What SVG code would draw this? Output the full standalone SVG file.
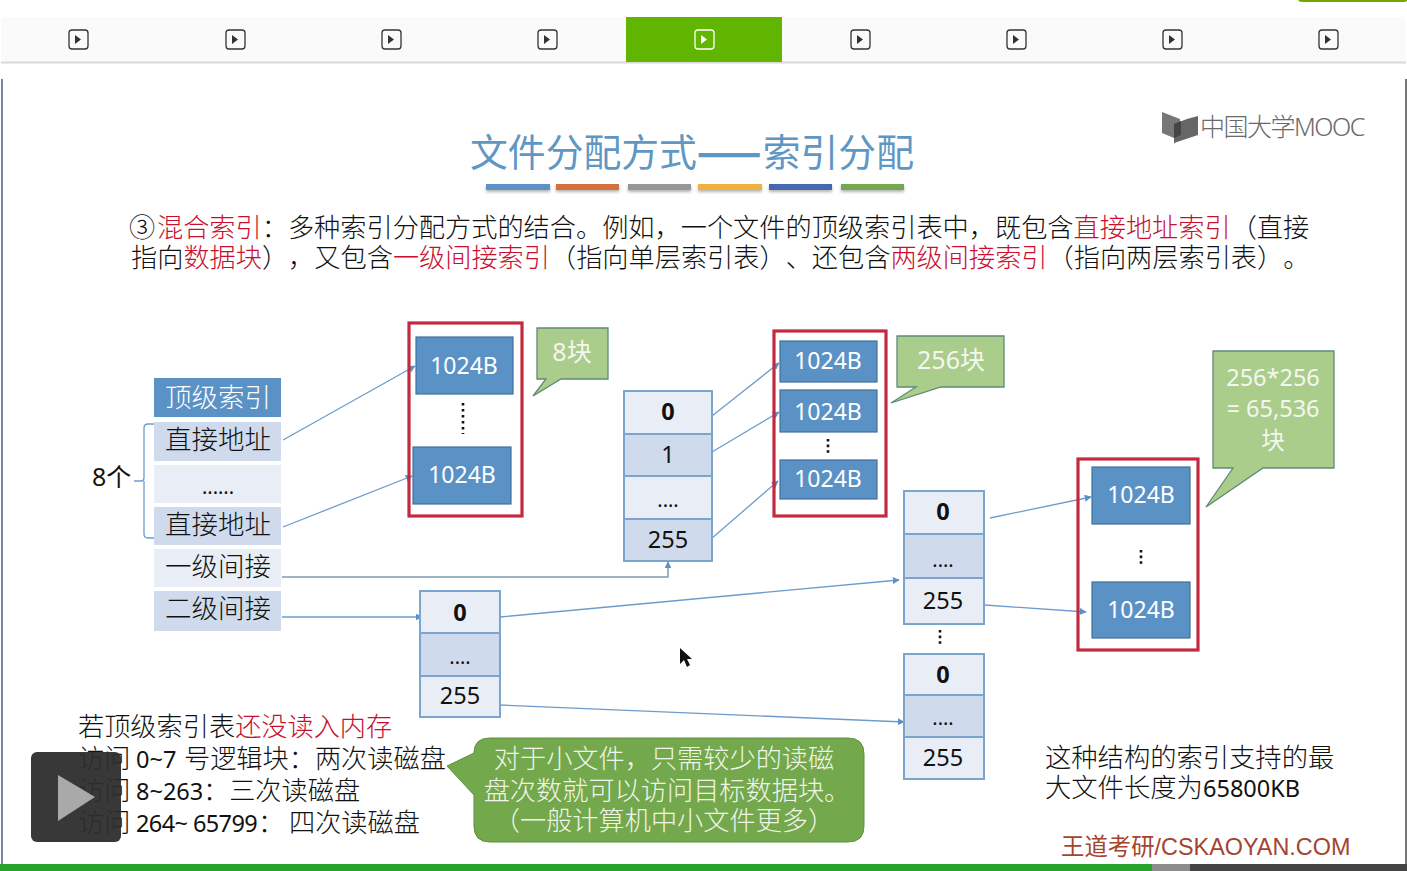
<svg xmlns="http://www.w3.org/2000/svg" width="1407" height="871" viewBox="0 0 1407 871">
<defs>
<marker id="ah" viewBox="0 0 10 10" refX="9" refY="5" markerWidth="7" markerHeight="7" markerUnits="userSpaceOnUse" orient="auto"><path d="M0 0L10 5L0 10z" fill="#5b92c6"/></marker>
<filter id="sh" x="-10%" y="-50%" width="120%" height="250%"><feDropShadow dx="0" dy="2" stdDeviation="1.5" flood-color="#000" flood-opacity=".3"/></filter>
</defs>
<style>
text{font-family:"Noto Sans","Noto Sans CJK SC",sans-serif;fill:#111;text-spacing-trim:space-all}
.cjk{font-family:"Noto Sans CJK SC",sans-serif;font-weight:300}
.b{font-size:26.2px;font-family:"Noto Sans CJK SC",sans-serif;font-weight:300}
.r{fill:#c8102e}
.m{text-anchor:middle}
.w{fill:#fff}
.t{font-size:26.5px;text-anchor:middle}
.n{font-size:23.5px;text-anchor:middle}
.h{font-size:23px;text-anchor:middle;fill:#fff}
.d{stroke:#111;stroke-width:2.6;stroke-dasharray:2.6 3.4;fill:none}
.dk{fill:#5b92c6;stroke:#41719c;stroke-width:1.2}
.l1{fill:#e9edf5;stroke:#7ba5cf;stroke-width:2}
.l2{fill:#cfdbec;stroke:#7ba5cf;stroke-width:2}
.rb{fill:none;stroke:#c42a3f;stroke-width:3.2}
.cn{fill:none;stroke:#6d9ccb;stroke-width:1.3;marker-end:url(#ah)}
.co{fill:none;stroke:#7f9ab4;stroke-width:1.5;marker-end:url(#ah)}
.bl{fill:#aacd8b;stroke:#5f8a78;stroke-width:1.3}
.ic{fill:#fafafa;stroke:#333;stroke-width:1.3}
.nt{fill:#f4f7ef}
.rd{font-size:26.2px;font-family:"Noto Sans CJK SC",sans-serif;font-weight:300}
.ln{font-family:"Noto Sans",sans-serif;font-size:23.5px;font-weight:400}
</style>
<rect width="1407" height="871" fill="#fff"/>
<g id="toolbar">
<rect x="1" y="17" width="1405" height="45" rx="5" fill="#fafafa"/>
<path d="M1 62.5H1406" stroke="#d8d8d8" stroke-width="2"/>
<rect x="626" y="17" width="156" height="45" fill="#62b500"/>
<path d="M1298 0H1407V1q-1 1-4 1H1302q-3 0-4-2z" fill="#74a600"/>
<g class="ic">
<rect x="69" y="30" width="19" height="19" rx="3"/><rect x="226" y="30" width="19" height="19" rx="3"/><rect x="382" y="30" width="19" height="19" rx="3"/><rect x="538" y="30" width="19" height="19" rx="3"/>
<rect x="851" y="30" width="19" height="19" rx="3"/><rect x="1007" y="30" width="19" height="19" rx="3"/><rect x="1163" y="30" width="19" height="19" rx="3"/><rect x="1319" y="30" width="19" height="19" rx="3"/>
</g>
<rect x="695" y="30" width="19" height="19" rx="3" fill="none" stroke="#fff" stroke-width="1.3"/>
<g fill="#333"><path d="M75 35l6 4.500-6 4.500z"/><path d="M232 35l6 4.500-6 4.500z"/><path d="M388 35l6 4.500-6 4.500z"/><path d="M544 35l6 4.500-6 4.500z"/><path d="M857 35l6 4.500-6 4.500z"/><path d="M1013 35l6 4.500-6 4.500z"/><path d="M1169 35l6 4.500-6 4.500z"/><path d="M1325 35l6 4.500-6 4.500z"/></g>
<path d="M701 35l6 4.500-6 4.500z" fill="#fff"/>
</g>
<g id="frame">
<rect x="1" y="79" width="2" height="785" fill="#7a83a0"/>
<rect x="1405" y="79" width="2" height="785" fill="#777"/>
<rect x="0" y="864" width="1152" height="7" fill="#26a32a"/>
<rect x="1152" y="864" width="38" height="7" fill="#8c8c8c"/>
<rect x="1190" y="864" width="217" height="7" fill="#444"/>
</g>
<g id="title">
<text x="692" y="166" class="m cjk" font-size="37.800" style="fill:#5f97c4;font-weight:400">文件分配方式<tspan style="font-weight:900" letter-spacing="1">——</tspan>索引分配</text>
<g filter="url(#sh)">
<rect x="486" y="184" width="64" height="6" fill="#5b92c6"/><rect x="556" y="184" width="63" height="6" fill="#d56f3e"/><rect x="628" y="184" width="63" height="6" fill="#979797"/><rect x="698" y="184" width="64" height="6" fill="#f0b03c"/><rect x="769" y="184" width="63" height="6" fill="#4468b0"/><rect x="841" y="184" width="63" height="6" fill="#74a751"/>
</g>
</g>
<g id="logo">
<path d="M1162 112l18 7v17l-6 8v-6l-12-5z" fill="#777"/><path d="M1174 124l13-5 11-3v19l-24 8z" fill="#666"/><path d="M1174 124l7-3v14l-7 3z" fill="#444"/>
<text x="1200" y="136" font-size="25" letter-spacing="-1.500" style="fill:#6a6a6a;font-weight:300">中国大学MOOC</text>
</g>
<g id="intro">
<text x="129" y="237" class="b">③<tspan class="r" x="157">混合索引</tspan>：多种索引分配方式的结合。例如，一个文件的顶级索引表中，既包含<tspan class="r">直接地址索引</tspan>（直接</text>
<text x="131" y="267" class="b">指向<tspan class="r">数据块</tspan>），又包含<tspan class="r">一级间接索引</tspan>（指向单层索引表）、还包含<tspan class="r">两级间接索引</tspan>（指向两层索引表）。</text>
</g>
<g id="connectors">
<path class="cn" d="M283 440L415 366"/>
<path class="cn" d="M283 527L412 476"/>
<path class="co" d="M282 577H668V562"/>
<path class="cn" d="M282 617H422"/>
<path class="cn" d="M500 617L899 580"/>
<path class="cn" d="M500 705L904 722"/>
<path class="cn" d="M712 416L779 363"/>
<path class="cn" d="M712 452L779 412"/>
<path class="cn" d="M711 539L778 481"/>
<path class="cn" d="M990 518L1091 497"/>
<path class="cn" d="M985 605L1086 612"/>
</g>
<g id="top-index">
<rect x="154" y="378" width="127" height="39" fill="#5b92c6"/><text x="218" y="407" class="t cjk" style="fill:#fff">顶级索引</text>
<rect x="154" y="422" width="127" height="39" fill="#cfdbec"/><text x="218" y="449" class="t cjk">直接地址</text>
<rect x="154" y="465" width="127" height="38" fill="#e9edf5"/><text x="218" y="494" class="n" style="font-size:20px">......</text>
<rect x="154" y="507" width="127" height="38" fill="#cfdbec"/><text x="218" y="534" class="t cjk">直接地址</text>
<rect x="154" y="549" width="127" height="38" fill="#e9edf5"/><text x="218" y="576" class="t cjk">一级间接</text>
<rect x="154" y="591" width="127" height="40" fill="#cfdbec"/><text x="218" y="618" class="t cjk">二级间接</text>
</g>
<g id="brace">
<path d="M154 424h-6q-4 0-4 4v50q0 3-3 3h-7m10 0q0 3 0 3v50q0 4 4 4h6" fill="none" stroke="#6d9ccb" stroke-width="1.300"/>
<text x="92" y="486" style="font-size:25px">8个</text>
</g>
<g id="blocks-a">
<rect class="rb" x="409" y="323" width="113" height="193"/>
<rect class="dk" x="416" y="337" width="97" height="57"/><text x="464" y="374" class="h">1024B</text>
<path class="d" d="M463 403V434"/>
<rect class="dk" x="413" y="447" width="98" height="57"/><text x="462" y="483" class="h">1024B</text>
</g>
<g id="note-8">
<path class="bl" d="M537 328H608V379H561L533 396L546 379H537z"/><text x="572" y="361" class="m nt" font-size="25">8块</text>
</g>
<g id="index-1">
<rect class="l1" x="624" y="391" width="88" height="43"/><text x="668" y="420" class="n" style="font-weight:700">0</text>
<rect class="l2" x="624" y="434" width="88" height="42"/><text x="668" y="463" class="n">1</text>
<rect class="l1" x="624" y="476" width="88" height="43"/><text x="668" y="507" class="n" style="font-size:20px">....</text>
<rect class="l2" x="624" y="519" width="88" height="42"/><text x="668" y="548" class="n">255</text>
</g>
<g id="blocks-b">
<rect class="rb" x="774" y="331" width="112" height="185"/>
<rect class="dk" x="780" y="341" width="97" height="41"/><text x="828" y="369" class="h">1024B</text>
<rect class="dk" x="780" y="390" width="97" height="42"/><text x="828" y="420" class="h">1024B</text>
<path class="d" d="M828 439V455" style="stroke-dasharray:2.600 3"/>
<rect class="dk" x="780" y="460" width="97" height="39"/><text x="828" y="487" class="h">1024B</text>
</g>
<g id="note-256">
<path class="bl" d="M897 336H1004V387H941L891 403L916 387H897z"/><text x="951" y="369" class="m nt" font-size="25">256块</text>
</g>
<g id="index-2">
<rect class="l1" x="420" y="591" width="80" height="42"/><text x="460" y="621" class="n" style="font-weight:700">0</text>
<rect class="l2" x="420" y="633" width="80" height="43"/><text x="460" y="664" class="n" style="font-size:20px">....</text>
<rect class="l1" x="420" y="676" width="80" height="41"/><text x="460" y="704" class="n">255</text>
</g>
<g id="index-3">
<rect class="l1" x="904" y="491" width="80" height="43"/><text x="943" y="520" class="n" style="font-weight:700">0</text>
<rect class="l2" x="904" y="534" width="80" height="44"/><text x="943" y="567" class="n" style="font-size:20px">....</text>
<rect class="l1" x="904" y="578" width="80" height="46"/><text x="943" y="609" class="n">255</text>
</g>
<path id="gap" class="d" d="M940 630V645" style="stroke-dasharray:2.600 3"/>
<g id="index-4">
<rect class="l1" x="904" y="654" width="80" height="41"/><text x="943" y="683" class="n" style="font-weight:700">0</text>
<rect class="l2" x="904" y="695" width="80" height="42"/><text x="943" y="725" class="n" style="font-size:20px">....</text>
<rect class="l1" x="904" y="737" width="80" height="42"/><text x="943" y="766" class="n">255</text>
</g>
<g id="blocks-c">
<rect class="rb" x="1078" y="459" width="120" height="191"/>
<rect class="dk" x="1092" y="467" width="98" height="57"/><text x="1141" y="503" class="h">1024B</text>
<path class="d" d="M1141 550V565" style="stroke-dasharray:2.600 3"/>
<rect class="dk" x="1092" y="582" width="98" height="56"/><text x="1141" y="618" class="h">1024B</text>
</g>
<g id="note-65536">
<path class="bl" d="M1213 351H1334V468H1263L1206 507L1233 468H1213z"/>
<text x="1273" y="386" class="m nt" font-size="23.500">256*256</text>
<text x="1273" y="417" class="m nt" font-size="23.500">= 65,536</text>
<text x="1273" y="449" class="m nt" font-size="23.500">块</text>
</g>
<g id="reads">
<text x="78" y="736" class="rd">若顶级索引表<tspan class="r">还没读入内存</tspan></text>
<text x="78" y="768" class="rd">访问<tspan class="ln" x="136">0~7</tspan><tspan x="184">号逻辑块：两次读磁盘</tspan></text>
<text x="78" y="800" class="rd">访问<tspan class="ln" x="136">8~263</tspan><tspan x="203">：三次读磁盘</tspan></text>
<text x="78" y="832" class="rd">访问<tspan class="ln" x="136" letter-spacing="-.6">264~ 65799</tspan><tspan x="258">：</tspan><tspan x="289">四次读磁盘</tspan></text>
</g>
<g id="player">
<rect x="31" y="752" width="90" height="90" rx="6" fill="#2d2d2d" fill-opacity=".95"/>
<path d="M58 775L95 797L58 821z" fill="#a9a9a9"/>
</g>
<g id="note-small">
<path d="M490 738H848Q864 738 864 754V826Q864 842 848 842H490Q474 842 474 826V795L447 766L474 753Q474 738 490 738z" fill="#74a84c" stroke="#5f8f3c" stroke-width="1"/>
<text x="664" y="768" class="m rd" style="fill:#f0f5ea">对于小文件，只需较少的读磁</text>
<text x="667" y="800" class="m rd" style="fill:#f0f5ea">盘次数就可以访问目标数据块。</text>
<text x="664" y="830" class="m rd" style="fill:#f0f5ea">（一般计算机中小文件更多）</text>
</g>
<g id="max-size">
<text x="1045" y="767" class="cjk" font-size="26.300">这种结构的索引支持的最</text>
<text x="1045" y="797" class="cjk" font-size="26.300">大文件长度为<tspan class="ln" x="1203">65800KB</tspan></text>
</g>
<text id="brand" x="1061" y="855" font-size="23.400" style="font-family:'Liberation Sans','Noto Sans CJK SC',sans-serif;fill:#a5442f">王道考研/CSKAOYAN.COM</text>
<path id="cursor" d="M680 648V664L684 660L687 667L690 665L687 659H692z" fill="#111"/>
</svg>
